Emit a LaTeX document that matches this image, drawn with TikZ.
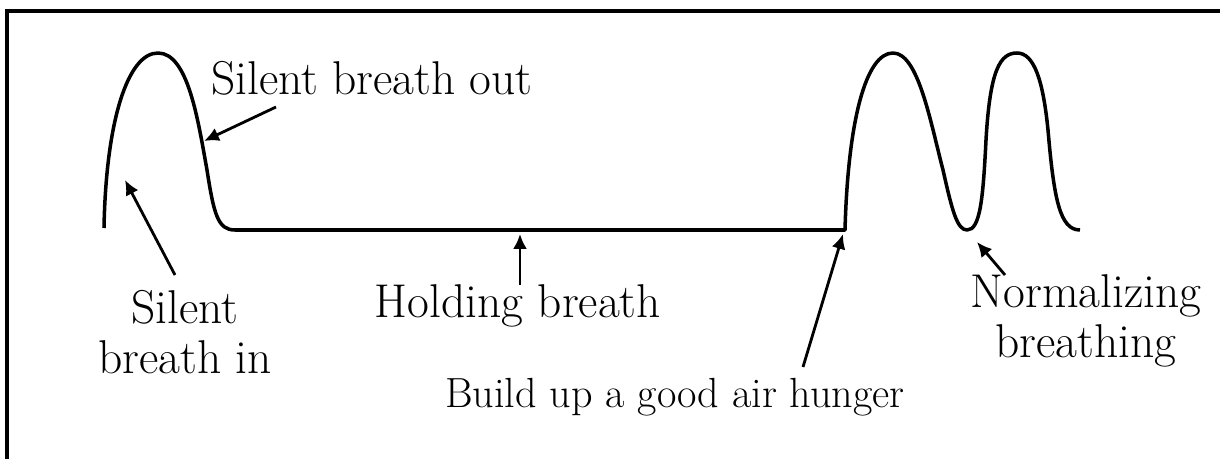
\documentclass[tikz,border=0pt]{standalone}
\usetikzlibrary{arrows.meta}

\begin{document}
\begin{tikzpicture}[>={Latex[length=8.5pt,width=8pt]}, x=0.02cm, y=-0.02cm,
  lbl/.style={inner sep=0pt, anchor=base, font=\fontsize{27}{28.5}\selectfont},
  arr/.style={->, line width=1.6pt},
  wave/.style={line width=2pt, line join=round}]

\useasboundingbox (0,0) rectangle (1220,459);

%\draw[step=50, color=gray!40] (0,0) grid (1220,459);

\draw[line width=2.3pt] (7,459) -- (7,11) -- (1220,11);

\draw[wave] (104,228) .. controls (106,120) and (128,53) .. (158,53)
  .. controls (188,53) and (198,120) .. (207,170)
  .. controls (214,215) and (218,230) .. (235,230) -- (845,230)
  .. controls (848,120) and (866,53) .. (893,53)
  .. controls (918,53) and (930,120) .. (943,170)
  .. controls (952,210) and (957,230) .. (967,230)
  .. controls (980,230) and (983,200) .. (986,140)
  .. controls (990,70) and (1000,53) .. (1017,53)
  .. controls (1034,53) and (1043,80) .. (1048,130)
  .. controls (1054,200) and (1060,230) .. (1080,230);

\node[lbl] (outlbl) at (372,95) {Silent breath out};
\node[lbl, anchor=north, align=center] (inlbl) at (185,290) {Silent\\breath in};
\node[lbl] (holdlbl) at (518,317) {Holding breath};
\node[lbl, font=\fontsize{24}{26}\selectfont] (buildlbl) at (675,407) {Build up a good air hunger};
\node[lbl, anchor=north, align=center] (normlbl) at (1086,274) {Normalizing\\breathing};

\coordinate (outtail) at (276,107);
\coordinate (outtip) at (204,141);
\coordinate (intail) at (175,275);
\coordinate (intip) at (125,180);
\coordinate (holdtail) at (520,285);
\coordinate (holdtip) at (520,234);
\coordinate (buildtail) at (803,367);
\coordinate (buildtip) at (843,234);
\coordinate (normtail) at (1005,275);
\coordinate (normtip) at (977,242);

\draw[arr] (outtail) -- (outtip);
\draw[arr] (intail) -- (intip);
\draw[arr] (holdtail) -- (holdtip);
\draw[arr] (buildtail) -- (buildtip);
\draw[arr] (normtail) -- (normtip);

\end{tikzpicture}
\end{document}
